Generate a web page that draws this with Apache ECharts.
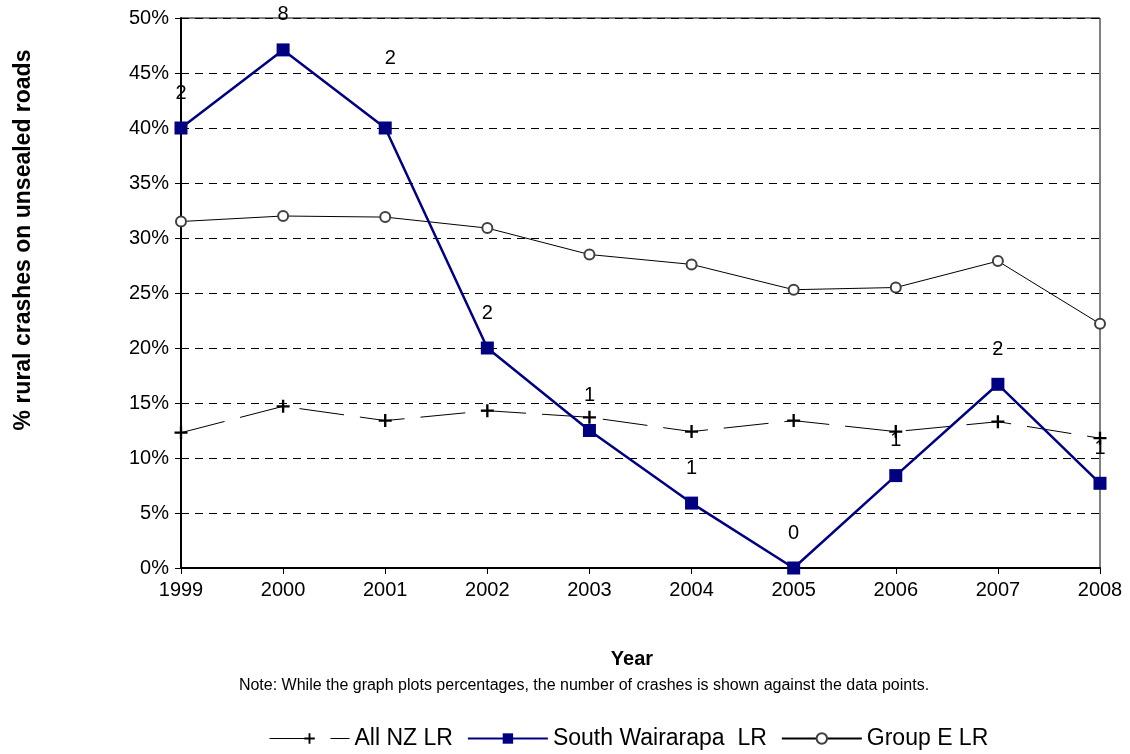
<!DOCTYPE html>
<html>
<head>
<meta charset="utf-8">
<script src="https://cdn.jsdelivr.net/npm/echarts@6/dist/echarts.min.js"></script>
<style>
  html, body { margin: 0; padding: 0; background: #fff; }
  #chart { width: 1130px; height: 754px; }
</style>
</head>
<body>
<div id="chart"></div>
<script>
// data
const years = ['1999', '2000', '2001', '2002', '2003', '2004', '2005', '2006', '2007', '2008'];
const allNz = [12.3, 14.7, 13.4, 14.3, 13.7, 12.4, 13.4, 12.4, 13.3, 11.8];
const southWairarapa = [40.0, 47.1, 40.0, 20.0, 12.5, 5.9, 0.0, 8.4, 16.7, 7.7];
const groupE = [31.5, 32.0, 31.9, 30.9, 28.5, 27.6, 25.3, 25.5, 27.9, 22.2];
// number of crashes shown next to the South Wairarapa points
const crashCounts = [2, 8, 2, 2, 1, 1, 0, 1, 2, 1];

const FONT = 'Liberation Sans, Arial, sans-serif';
const plusPath = 'path://M4.1,0H5.9V4.1H10V5.9H5.9V10H4.1V5.9H0V4.1H4.1Z';
const nzDash = [45, 16];

const chart = echarts.init(document.getElementById('chart'));

// label for each SW point, 2001 one sits off to the upper right
const swData = southWairarapa.map((v, i) => ({
  value: v,
  label: {
    show: true,
    formatter: String(crashCounts[i]),
    position: 'inside',
    offset: i === 2 ? [5, -70] : [0, -35]
  }
}));

const option = {
  backgroundColor: '#ffffff',
  textStyle: { fontFamily: FONT },
  animation: false,
  grid: {
    left: 181, right: 30, top: 18, bottom: 186,
    show: true, borderColor: '#000', borderWidth: 1
  },
  legend: {
    left: 264,
    top: 722,
    itemWidth: 80,
    itemHeight: 13,
    itemGap: 14,
    textStyle: { fontFamily: FONT, fontSize: 23, color: '#000' },
    data: [
      { name: 'All NZ LR', lineStyle: { type: nzDash, width: 1, color: '#000' } },
      'South Wairarapa  LR',
      'Group E LR'
    ]
  },
  graphic: [
    {
      type: 'text',
      x: 24, y: 240,
      rotation: Math.PI / 2,
      style: {
        text: '% rural crashes on unsealed roads',
        font: 'bold 23px ' + FONT,
        fill: '#000',
        align: 'center',
        verticalAlign: 'middle'
      }
    },
    {
      type: 'text',
      x: 632, y: 659,
      style: {
        text: 'Year',
        font: 'bold 20px ' + FONT,
        fill: '#000',
        align: 'center',
        verticalAlign: 'middle'
      }
    },
    {
      type: 'text',
      x: 584, y: 686,
      style: {
        text: 'Note: While the graph plots percentages, the number of crashes is shown against the data points.',
        font: '16px ' + FONT,
        fill: '#000',
        align: 'center',
        verticalAlign: 'middle'
      }
    }
  ],
  xAxis: {
    type: 'category',
    data: years,
    boundaryGap: false,
    axisLine: { lineStyle: { color: '#000', width: 2 } },
    axisTick: { show: true, length: 6, lineStyle: { color: '#000' } },
    axisLabel: { fontFamily: FONT, fontSize: 20, color: '#000', margin: 12 }
  },
  yAxis: {
    type: 'value',
    min: 0, max: 50, interval: 5,
    axisLine: { show: true, lineStyle: { color: '#000', width: 2 } },
    axisTick: { show: true, length: 6, lineStyle: { color: '#000' } },
    axisLabel: { fontFamily: FONT, fontSize: 20, color: '#000', margin: 12, formatter: '{value}%' },
    splitLine: { show: true, lineStyle: { color: '#000', type: [8, 6], width: 1 } }
  },
  series: [
    {
      name: 'All NZ LR',
      type: 'line',
      data: allNz,
      symbol: plusPath,
      symbolSize: 13,
      itemStyle: { color: '#000' },
      lineStyle: { color: '#000', width: 1, type: nzDash },
      z: 2
    },
    {
      name: 'South Wairarapa  LR',
      type: 'line',
      data: swData,
      symbol: 'rect',
      symbolSize: 13,
      itemStyle: { color: '#000080' },
      lineStyle: { color: '#000080', width: 2.5 },
      label: { color: '#000', fontFamily: FONT, fontSize: 20 },
      z: 4
    },
    {
      name: 'Group E LR',
      type: 'line',
      data: groupE,
      symbol: 'emptyCircle',
      symbolSize: 10,
      itemStyle: { color: '#404040', borderWidth: 1.5 },
      lineStyle: { color: '#000', width: 1 },
      z: 3
    }
  ]
};

chart.setOption(option);
</script>
</body>
</html>
